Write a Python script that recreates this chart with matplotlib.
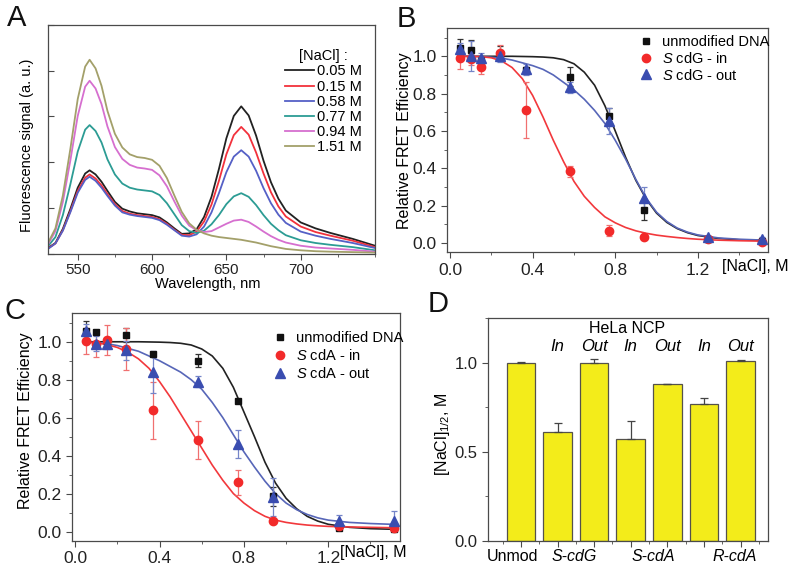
import numpy as np
import matplotlib
matplotlib.use("Agg")
import matplotlib.pyplot as plt
from matplotlib.lines import Line2D
from matplotlib.ticker import MultipleLocator, NullFormatter, FixedLocator

plt.rcParams.update({"font.family": ["Liberation Sans", "DejaVu Sans"], "font.size": 10,
                     "mathtext.fontset": "custom", "mathtext.rm": "Liberation Sans",
                     "mathtext.it": "Liberation Sans:italic",
                     "axes.linewidth": 0.9, "axes.edgecolor": "#4a4a4a",
                     "xtick.color": "#4a4a4a", "ytick.color": "#4a4a4a",
                     "xtick.labelcolor": "#222222", "ytick.labelcolor": "#222222"})

# ---- panel A: emission spectra (signal in tick units) ----
WL = [530, 535, 540, 545, 550, 555, 558, 562, 566, 570, 575, 580, 585, 590, 595, 600, 605, 610, 615, 620,
      625, 630, 635, 640, 645, 650, 655, 660, 665, 670, 675, 680, 685, 690, 700, 710, 720, 735, 750]
SPEC_005 = [0.12, 0.23, 0.54, 0.97, 1.44, 1.75, 1.82, 1.73, 1.57, 1.37, 1.13, 0.98, 0.92, 0.88, 0.86, 0.84, 0.79, 0.68, 0.55, 0.43,
            0.44, 0.53, 0.80, 1.24, 1.85, 2.52, 3.01, 3.22, 3.02, 2.58, 2.03, 1.56, 1.20, 0.94, 0.68, 0.55, 0.45, 0.32, 0.17]
SPEC_015 = [0.11, 0.22, 0.51, 0.92, 1.37, 1.66, 1.73, 1.64, 1.49, 1.30, 1.08, 0.93, 0.87, 0.84, 0.82, 0.80, 0.75, 0.65, 0.52, 0.41,
            0.40, 0.48, 0.70, 1.07, 1.59, 2.17, 2.59, 2.77, 2.60, 2.21, 1.75, 1.34, 1.03, 0.81, 0.59, 0.47, 0.39, 0.28, 0.14]
SPEC_058 = [0.10, 0.22, 0.50, 0.90, 1.33, 1.61, 1.68, 1.59, 1.44, 1.26, 1.05, 0.90, 0.85, 0.82, 0.80, 0.78, 0.73, 0.63, 0.51, 0.39,
            0.37, 0.42, 0.59, 0.90, 1.32, 1.78, 2.12, 2.26, 2.12, 1.81, 1.43, 1.10, 0.85, 0.67, 0.48, 0.39, 0.32, 0.23, 0.12]
SPEC_077 = [0.16, 0.36, 0.84, 1.51, 2.23, 2.71, 2.81, 2.68, 2.43, 2.06, 1.73, 1.53, 1.44, 1.40, 1.38, 1.36, 1.28, 1.10, 0.86, 0.62,
            0.49, 0.45, 0.50, 0.64, 0.84, 1.08, 1.25, 1.32, 1.24, 1.06, 0.84, 0.65, 0.51, 0.40, 0.29, 0.23, 0.19, 0.14, 0.07]
SPEC_094 = [0.20, 0.49, 1.13, 2.03, 3.01, 3.65, 3.78, 3.61, 3.27, 2.78, 2.33, 2.07, 1.94, 1.88, 1.86, 1.83, 1.71, 1.47, 1.14, 0.83,
            0.61, 0.51, 0.47, 0.49, 0.57, 0.65, 0.72, 0.74, 0.69, 0.59, 0.48, 0.38, 0.30, 0.24, 0.17, 0.13, 0.11, 0.08, 0.04]
SPEC_151 = [0.23, 0.55, 1.27, 2.28, 3.38, 4.09, 4.24, 4.05, 3.67, 3.12, 2.62, 2.32, 2.17, 2.11, 2.09, 2.05, 1.92, 1.65, 1.27, 0.91,
            0.66, 0.52, 0.44, 0.39, 0.36, 0.34, 0.32, 0.30, 0.27, 0.24, 0.20, 0.16, 0.13, 0.10, 0.07, 0.05, 0.04, 0.03, 0.02]
SPEC_LABELS = ["0.05 M", "0.15 M", "0.58 M", "0.77 M", "0.94 M", "1.51 M"]

# ---- panels B, C: relative FRET efficiency vs [NaCl] ----
NACL = [0.05, 0.10, 0.15, 0.24, 0.37, 0.58, 0.77, 0.94, 1.25, 1.51]
B_UNMOD = [1.045, 1.035, 0.975, 1.015, 0.925, 0.89, 0.68, 0.175, 0.02, 0.01]
B_UNMOD_ERR = [0.05, 0.05, 0.02, 0.04, 0.02, 0.05, 0.045, 0.05, 0.01, 0.01]
B_IN = [0.99, 0.985, 0.945, 1.02, 0.71, 0.385, 0.065, 0.03, 0.02, 0.005]
B_IN_ERR = [0.06, 0.03, 0.04, 0.04, 0.15, 0.03, 0.03, 0.01, 0.01, 0.005]
B_OUT = [1.04, 1.0, 0.99, 1.0, 0.93, 0.835, 0.655, 0.24, 0.03, 0.02]
B_OUT_ERR = [0.03, 0.08, 0.03, 0.03, 0.03, 0.03, 0.07, 0.06, 0.01, 0.01]
C_UNMOD = [1.055, 1.05, 1.0, 1.035, 0.937, 0.90, 0.69, 0.185, 0.02, 0.015]
C_UNMOD_ERR = [0.055, 0.01, 0.02, 0.035, 0.01, 0.035, 0.01, 0.05, 0.01, 0.01]
C_IN = [1.005, 0.99, 1.01, 0.96, 0.64, 0.48, 0.26, 0.053, 0.03, 0.02]
C_IN_ERR = [0.07, 0.07, 0.08, 0.11, 0.15, 0.10, 0.065, 0.01, 0.01, 0.01]
C_OUT = [1.055, 0.99, 0.99, 0.955, 0.84, 0.79, 0.46, 0.18, 0.056, 0.056]
C_OUT_ERR = [0.04, 0.04, 0.03, 0.05, 0.11, 0.03, 0.075, 0.10, 0.03, 0.05]

FIT_X = [0.05, 0.1, 0.15, 0.2, 0.25, 0.3, 0.35, 0.4, 0.45, 0.5, 0.55, 0.6, 0.65, 0.7, 0.75, 0.8, 0.85, 0.9,
         0.95, 1.0, 1.05, 1.1, 1.15, 1.2, 1.3, 1.4, 1.5]
B_FIT_UNMOD = [1.0, 1.0, 1.0, 1.0, 1.0, 1.0, 0.999, 0.998, 0.996, 0.992, 0.982, 0.96, 0.915, 0.845, 0.735, 0.60,
               0.46, 0.335, 0.235, 0.16, 0.11, 0.077, 0.055, 0.04, 0.024, 0.017, 0.014]
B_FIT_IN = [1.0, 1.0, 0.998, 0.992, 0.975, 0.94, 0.88, 0.79, 0.675, 0.55, 0.435, 0.33, 0.25, 0.19, 0.14, 0.108,
            0.083, 0.065, 0.052, 0.042, 0.035, 0.029, 0.024, 0.02, 0.015, 0.012, 0.01]
B_FIT_OUT = [1.0, 1.0, 0.998, 0.995, 0.99, 0.98, 0.965, 0.95, 0.93, 0.90, 0.86, 0.82, 0.77, 0.71, 0.64, 0.55,
             0.45, 0.34, 0.24, 0.165, 0.115, 0.08, 0.058, 0.043, 0.027, 0.02, 0.016]
C_FIT_UNMOD = [1.0, 1.0, 1.0, 1.0, 1.0, 1.0, 0.999, 0.998, 0.996, 0.992, 0.983, 0.962, 0.925, 0.86, 0.76, 0.63,
               0.50, 0.365, 0.255, 0.175, 0.12, 0.08, 0.055, 0.038, 0.022, 0.015, 0.012]
C_FIT_IN = [0.998, 0.995, 0.985, 0.97, 0.945, 0.91, 0.86, 0.79, 0.71, 0.62, 0.53, 0.44, 0.35, 0.27, 0.20, 0.15,
            0.11, 0.08, 0.06, 0.048, 0.04, 0.034, 0.03, 0.027, 0.024, 0.022, 0.02]
C_FIT_OUT = [0.998, 0.995, 0.99, 0.98, 0.965, 0.95, 0.925, 0.90, 0.87, 0.84, 0.80, 0.75, 0.68, 0.60, 0.51, 0.42,
             0.34, 0.265, 0.20, 0.15, 0.115, 0.09, 0.072, 0.06, 0.048, 0.042, 0.038]

# ---- panel D: [NaCl]1/2 ----
D_VALUES = [1.0, 0.61, 1.0, 0.57, 0.88, 0.77, 1.01]
D_ERR = [0.003, 0.05, 0.02, 0.10, 0.0, 0.03, 0.003]
D_TOP = ["", "In", "Out", "In", "Out", "In", "Out"]
D_GROUPS = ["Unmod", "S-cdG", "S-cdA", "R-cdA"]
D_GROUP_AT = [0.78, 2.45, 4.62, 6.84]

W, H = 800, 569
fig = plt.figure(figsize=(W / 100, H / 100), dpi=100)


def px_axes(l, t, r, b):
    return fig.add_axes([l / W, 1 - b / H, (r - l) / W, (b - t) / H])


def letter(x, y, s):
    fig.text(x / W, 1 - y / H, s, fontsize=21, va="top", ha="left", color="#111111")


# A
axA = px_axes(48, 25, 375, 253.5)
cols = ["#222222", "#f2313c", "#5560c6", "#2c9c94", "#d66fcf", "#a3a06a"]
for ys, c, lab in zip([SPEC_005, SPEC_015, SPEC_058, SPEC_077, SPEC_094, SPEC_151], cols, SPEC_LABELS):
    axA.plot(WL, ys, color=c, lw=1.3, label=lab)
axA.set_xlim(530, 750); axA.set_ylim(0, 5)
axA.xaxis.set_major_locator(FixedLocator([550, 600, 650, 700]))
axA.xaxis.set_minor_locator(MultipleLocator(25))
axA.yaxis.set_major_locator(MultipleLocator(1)); axA.yaxis.set_major_formatter(NullFormatter())
axA.tick_params(axis="x", direction="out", length=4, labelsize=11, pad=2.5)
axA.tick_params(axis="x", which="minor", direction="out", length=2.5)
axA.tick_params(axis="y", direction="in", length=4)
axA.set_xlabel("Wavelength, nm", fontsize=10.5)
axA.xaxis.set_label_coords(0.49, -0.102)
axA.set_ylabel("Fluorescence signal (a. u.)", fontsize=10.5)
axA.yaxis.set_label_coords(-0.044, 0.475)
axA.legend(title="[NaCl] :", frameon=False, fontsize=10.5, title_fontsize=10.5,
           loc="upper left", bbox_to_anchor=(278 / W, 1 - 42 / H), bbox_transform=fig.transFigure,
           handlelength=1.95, handletextpad=0.2, labelspacing=0.08, borderpad=0)
letter(7, 4, "A")


def fret_panel(ax, unmod, ue, vin, ie, vout, oe, fu, fi, fo, name, leg_at, spacing):
    ax.plot(FIT_X, fu, color="#222222", lw=1.2)
    ax.plot(FIT_X, fo, color="#5766b8", lw=1.2)
    ax.plot(FIT_X, fi, color="#f2383c", lw=1.2)
    ax.errorbar(NACL, unmod, yerr=ue, fmt="s", ms=5, color="#111111", ecolor="#333333", elinewidth=0.9,
                capsize=2.5, capthick=0.9)
    ax.errorbar(NACL, vin, yerr=ie, fmt="o", ms=6, color="#f22a2a", ecolor="#f07070", elinewidth=0.9,
                capsize=2.5, capthick=0.9)
    ax.errorbar(NACL, vout, yerr=oe, fmt="^", ms=6.5, color="#3a4db0", ecolor="#7585c8", elinewidth=0.9,
                capsize=2.5, capthick=0.9)
    ax.set_xlim(-0.015, 1.54); ax.set_ylim(-0.05, 1.15)
    ax.xaxis.set_major_locator(MultipleLocator(0.4)); ax.xaxis.set_minor_locator(MultipleLocator(0.2))
    ax.yaxis.set_major_locator(MultipleLocator(0.2)); ax.yaxis.set_minor_locator(MultipleLocator(0.1))
    ax.xaxis.set_major_formatter(lambda v, p: f"{v:.1f}")
    ax.yaxis.set_major_formatter(lambda v, p: f"{v:.1f}")
    ax.tick_params(which="major", direction="out", length=4, labelsize=12.5)
    ax.tick_params(which="minor", direction="out", length=2.5)
    handles = [Line2D([], [], ls="", marker="s", ms=5, color="#111111"),
               Line2D([], [], ls="", marker="o", ms=6, color="#f22a2a"),
               Line2D([], [], ls="", marker="^", ms=6.5, color="#3a4db0")]
    labels = ["unmodified DNA", r"$S$ " + name + " - in", r"$S$ " + name + " - out"]
    ax.legend(handles, labels, frameon=False, fontsize=10.5, loc="upper left", bbox_to_anchor=leg_at,
              bbox_transform=fig.transFigure, handlelength=0.7, handletextpad=0.75,
              labelspacing=spacing, borderpad=0, borderaxespad=0)


# B
axB = px_axes(447, 28.3, 768, 252.3)
fret_panel(axB, B_UNMOD, B_UNMOD_ERR, B_IN, B_IN_ERR, B_OUT, B_OUT_ERR,
           B_FIT_UNMOD, B_FIT_IN, B_FIT_OUT, "cdG", (641 / W, 1 - 35 / H), 0.12)
axB.set_ylabel("Relative FRET Efficiency", fontsize=11.5)
axB.yaxis.set_label_coords(-0.11, 0.5)
fig.text(722 / W, 1 - 266 / H, "[NaCl], M", fontsize=11.5, va="center", ha="left")
letter(397, 5, "B")

# C
axC = px_axes(72, 313.3, 400, 541)
fret_panel(axC, C_UNMOD, C_UNMOD_ERR, C_IN, C_IN_ERR, C_OUT, C_OUT_ERR,
           C_FIT_UNMOD, C_FIT_IN, C_FIT_OUT, "cdA", (275 / W, 1 - 331 / H), 0.22)
axC.set_ylabel("Relative FRET Efficiency", fontsize=11.5)
axC.yaxis.set_label_coords(-0.118, 0.53)
fig.text(340 / W, 1 - 552 / H, "[NaCl], M", fontsize=11.5, va="center", ha="left")
letter(4, 297, "C")

# D
axD = px_axes(488, 318, 768, 541)
xs = np.arange(1, len(D_VALUES) + 1)
axD.bar(xs, D_VALUES, width=0.78, color="#f3ec1a", edgecolor="#55524a", linewidth=0.9,
        yerr=[np.zeros(len(D_ERR)), D_ERR], capsize=3,
        error_kw={"ecolor": "#444444", "elinewidth": 0.9, "capthick": 0.9})
axD.set_xlim(0.1, 7.75); axD.set_ylim(0, 1.25)
axD.set_xticks(xs); axD.set_xticklabels([""] * len(xs))
axD.set_xticks(np.arange(0.5, 8, 1.0), minor=True)
axD.yaxis.set_major_locator(MultipleLocator(0.5)); axD.yaxis.set_minor_locator(MultipleLocator(0.25))
axD.yaxis.set_major_formatter(lambda v, p: f"{v:.1f}")
axD.tick_params(which="major", direction="out", length=4, labelsize=12)
axD.tick_params(which="minor", direction="out", length=2.5)
for x, lab in zip(D_GROUP_AT, D_GROUPS):
    axD.text(x, -0.045, lab, ha="center", va="top", fontsize=11.5,
             style="normal" if lab == "Unmod" else "italic")
for x, lab in zip(xs, D_TOP):
    if lab:
        axD.text(x, 1.09, lab, ha="center", va="center", fontsize=12, style="italic")
axD.text(3.9, 1.19, "HeLa NCP", ha="center", va="center", fontsize=11.5)
axD.set_ylabel(r"[NaCl]$_{1/2}$, M", fontsize=11.5)
axD.yaxis.set_label_coords(-0.13, 0.48)
letter(428, 290, "D")

fig.savefig("out.png", dpi=100)
